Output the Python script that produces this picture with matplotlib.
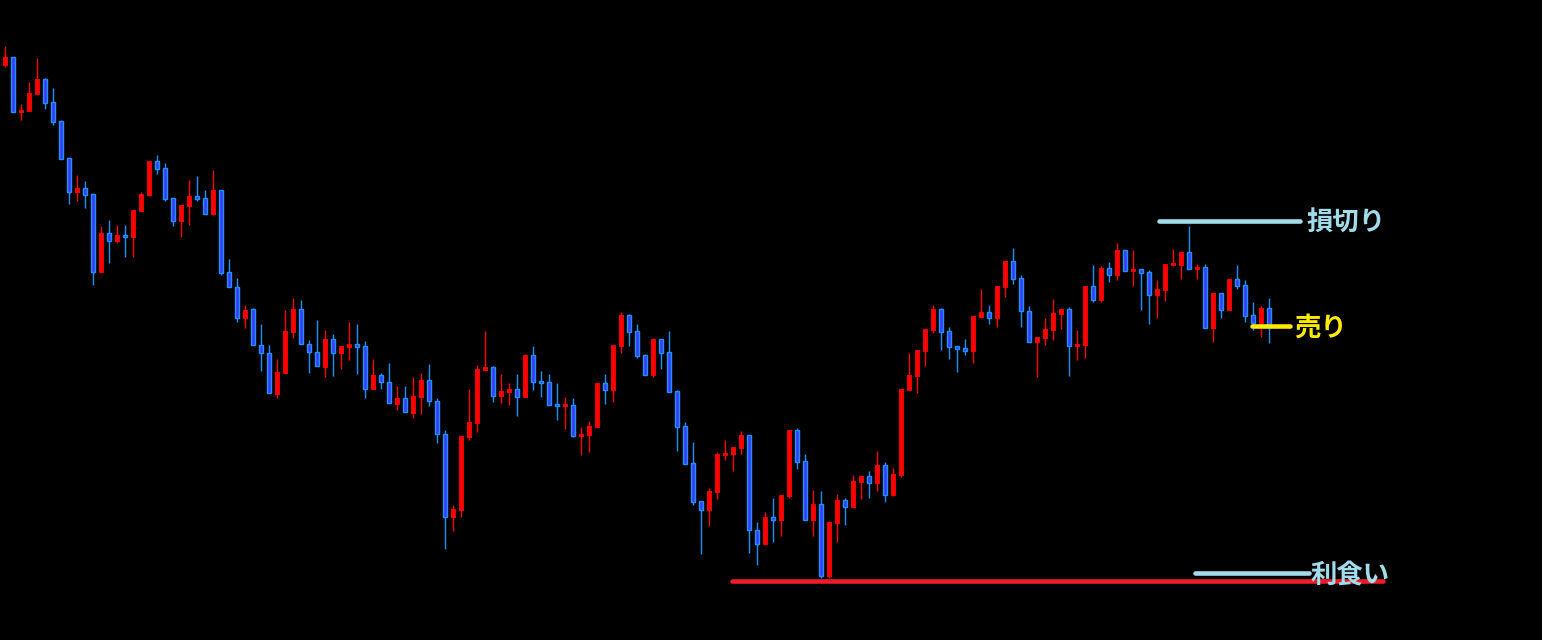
import matplotlib
matplotlib.use("Agg")
import matplotlib.pyplot as plt
import numpy as np

# OHLC values (chart units, higher = higher price)
opens = [575, 583, 528.3, 529.3, 546.3, 561, 538, 519, 481.7, 448.3,
         452, 446, 368.3, 407, 399.3, 405, 403.3, 429.3, 445, 479,
         472, 441.7, 419.3, 434.3, 444, 441.7, 426.3, 449.7, 367.7, 353,
         322, 330.7, 294.7, 286.7, 246.3, 267.3, 308.3, 330.7, 295.7, 287.7,
         273.3, 300.7, 286.7, 293.3, 296, 293.7, 251.3, 264.7, 257.7, 236.3,
         241.7, 227.3, 243.3, 260, 239, 205.7, 122.7, 130.3, 203.3, 217.3,
         270.3, 273, 244.3, 248.3, 251, 243.3, 285, 259.3, 258, 236,
         234.3, 235, 204.3, 205.3, 213.3, 257, 250.3, 294.3, 325, 309,
         285, 265.3, 301, 288, 249, 214, 177, 139, 130.3, 148.3,
         185.3, 186.3, 192.3, 205, 110, 96.3, 123, 120.3, 144.3, 210,
         179, 120.3, 136, 64.3, 117.3, 140, 133.3, 158.3, 164, 157.3,
         175, 145.3, 165, 250.3, 264.3, 289.3, 310.3, 331, 309, 294,
         292, 289.3, 323.3, 328, 322.3, 353.3, 379, 362, 329, 298.3,
         302.3, 310.3, 326.3, 331, 294.3, 295.3, 354, 340.3, 372, 365.3,
         390, 369, 371, 368, 345.3, 350.3, 375, 375.3, 388, 371.3,
         373, 312.3, 347, 330.3, 361, 355, 325, 317.3, 332]
highs = [594, 583, 536, 558, 582, 562, 552, 520, 481.7, 465,
         459, 446, 414, 420, 415, 415, 430, 447.7, 479, 485,
         477, 441.7, 435, 460, 464, 450, 470, 449.7, 381, 362,
         335, 331.7, 316, 294.7, 280.7, 330, 342, 340, 300, 320,
         310, 306, 294, 318, 316, 299, 281, 267, 277, 254,
         254, 263, 267, 276, 241.7, 210, 135, 204, 251, 275,
         309, 274, 266, 256.7, 266, 286, 294, 269, 266, 257,
         243, 242, 213.3, 219.3, 257, 266, 295, 328, 326, 316,
         286, 302, 301, 309, 250, 218, 198, 139, 152, 188,
         200, 193, 209, 205, 118, 128, 142, 145, 210, 212,
         186, 150, 149, 119, 146, 142, 165, 164, 169, 189,
         178, 172, 251, 287, 290, 311, 335, 332, 313, 294,
         301, 324, 351, 335, 354, 379, 392, 365, 334, 303,
         322, 341, 332, 333, 310.3, 354, 375, 374, 378, 397,
         390, 390, 371, 370, 360, 376, 391, 388, 414, 376,
         376, 347, 347, 361, 375, 360, 338, 334, 342]
lows = [573.3, 528.3, 520, 529.3, 546.3, 531.3, 515.3, 481.3, 436.3, 439,
        432.3, 355, 367.3, 377.3, 397.3, 383.3, 383.3, 429.3, 444.3, 466,
        439, 414, 403, 415, 439, 426.3, 425, 365.3, 352.7, 318,
        312, 294.7, 269.3, 246.7, 242.3, 267.3, 302.3, 295.7, 267.3, 273.7,
        263.3, 264.3, 271.3, 280.3, 266.3, 242.3, 251.3, 251.3, 236.7, 230.3,
        227.7, 222.3, 226.3, 234.3, 197.3, 91.3, 109.3, 123.3, 200.3, 208.3,
        270.3, 238.3, 237, 235.3, 224.3, 243.3, 250.3, 243.3, 235.3, 220.3,
        211.3, 203.3, 185.3, 188.3, 213.3, 236.3, 238.3, 287.3, 294.3, 282.3,
        265.3, 263, 271.3, 248.3, 189.3, 176.3, 135.3, 86.3, 114.3, 141.3,
        180.3, 169.3, 186.3, 87.3, 75.3, 95.3, 98.3, 104.3, 142.3, 171.3,
        120.3, 104.3, 62.3, 62.3, 98.3, 115.3, 133.3, 141.3, 142.3, 149.3,
        138.3, 144.3, 163.3, 250.3, 247.3, 274.3, 307.3, 290.3, 281.3, 268.3,
        285.3, 277.3, 322.3, 316.3, 313.3, 343.3, 356.3, 313.3, 298.3, 263.3,
        295.3, 300.3, 311.3, 264.3, 280.3, 282.3, 338.3, 338.3, 358.3, 360.3,
        369.3, 354, 330, 316.3, 322.3, 339.3, 374, 361, 371.3, 361,
        312.3, 298.3, 322.3, 330.3, 351.3, 318.3, 310, 303.3, 297.3]
closes = [583, 528.3, 530.3, 547, 561, 537.3, 518.3, 481.3, 448.3, 452.3,
          445.3, 368.3, 407, 399.3, 405, 403.3, 430, 446, 479, 471.3,
          441.3, 419.3, 435, 444, 441.3, 426.3, 450, 367.3, 352.7, 322,
          330, 294.7, 286.7, 246.7, 268, 308.7, 331, 295.7, 287.7, 273.7,
          301, 286.7, 294, 296, 293.3, 251.3, 264.7, 257.7, 236.7, 242,
          227.7, 244, 260, 238.7, 205.7, 122.7, 131, 204, 218, 271,
          273, 244.3, 249, 251, 243.3, 285, 258.3, 257.3, 235.3, 234.3,
          235.3, 204.3, 206.3, 214.3, 257, 250.3, 295, 325, 308.3, 284.3,
          265.3, 301, 287.3, 248.3, 213.3, 176.3, 138.3, 130.3, 149, 186,
          187, 193, 205, 109.7, 96.3, 123, 120.3, 145, 210, 178.3,
          120.3, 136, 64.3, 118, 140, 133.3, 159, 164, 157.3, 175,
          145.3, 166, 251, 265, 290, 311, 331, 308.3, 293.3, 291.3,
          289.3, 324, 328, 322.3, 354, 379, 361.3, 328.7, 298.3, 303,
          311, 327, 331, 294.3, 296, 354, 340.3, 372, 365.3, 390,
          369.3, 371, 367.3, 345.3, 351, 376, 376.7, 388, 371.3, 373,
          312.3, 347, 330.3, 361, 354.3, 324.3, 317.3, 332, 314.3]

# Horizontal trade levels and labels
stop_loss_level = 419.5
entry_level = 314
take_profit_level = 67
support_level = 59.5
labels = ["損切り", "売り", "利食い"]

UP = "#ff0000"
DOWN_FILL = "#3c3cff"
DOWN_EDGE = "#1e90ff"
LINE_BLUE = "#a2dcea"
YELLOW = "#ffea00"
RED_LINE = "#ee1c2a"

plt.rcParams['font.family'] = ['Noto Sans CJK JP', 'DejaVu Sans']

fig = plt.figure(figsize=(15.42, 6.40), dpi=100, facecolor="black")
ax = fig.add_axes([0, 0, 1, 1])
ax.set_facecolor("black")
ax.set_axis_off()

o = np.array(opens); h = np.array(highs); l = np.array(lows); c = np.array(closes)
x = np.arange(len(o))
up = c >= o

# wicks
ax.vlines(x[up], l[up], h[up], color=UP, linewidth=1.0, zorder=2)
ax.vlines(x[~up], l[~up], h[~up], color=DOWN_EDGE, linewidth=1.0, zorder=2)

# bodies
bottom = np.minimum(o, c)
height = np.maximum(np.abs(c - o), 1.6)
ax.bar(x[up], height[up], bottom=bottom[up], width=0.55, color=UP,
       edgecolor=UP, linewidth=0.6, zorder=3)
ax.bar(x[~up], height[~up], bottom=bottom[~up], width=0.55, color=DOWN_FILL,
       edgecolor=DOWN_EDGE, linewidth=1.0, zorder=3)

# level lines
ax.plot([90.8, 172.2], [support_level] * 2, color=RED_LINE, linewidth=3.3,
        solid_capstyle="round", zorder=4)
ax.plot([144.2, 161.9], [stop_loss_level] * 2, color=LINE_BLUE, linewidth=3.3,
        solid_capstyle="round", zorder=4)
ax.plot([155.9, 160.6], [entry_level] * 2, color=YELLOW, linewidth=3.3,
        solid_capstyle="round", zorder=4)
ax.plot([148.7, 163.0], [take_profit_level] * 2, color=LINE_BLUE, linewidth=3.3,
        solid_capstyle="round", zorder=4)

# labels (slightly below line centre to match glyph placement)
ax.text(162.6, stop_loss_level - 2.5, labels[0], color=LINE_BLUE, fontsize=19,
        fontweight="bold", ha="left", va="center", zorder=5)
ax.text(161.1, entry_level - 2.5, labels[1], color=YELLOW, fontsize=19,
        fontweight="bold", ha="left", va="center", zorder=5)
ax.text(163.2, take_profit_level - 2.5, labels[2], color=LINE_BLUE, fontsize=19,
        fontweight="bold", ha="left", va="center", zorder=5)

ax.set_xlim(-0.6625, 192.09)
ax.set_ylim(0, 640)

fig.savefig("out.png", dpi=100, facecolor="black")
